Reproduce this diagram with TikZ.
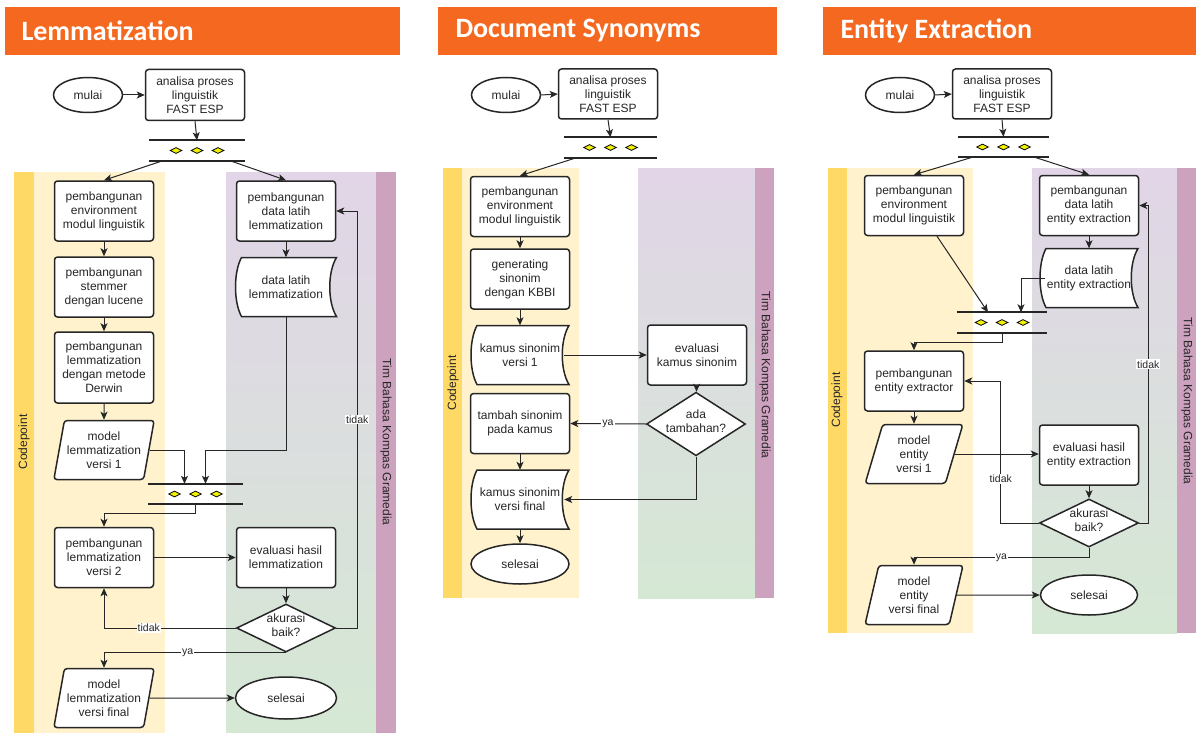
\documentclass[tikz,border=0pt]{standalone}
\usepackage{fontspec}
\setmainfont{Liberation Sans}
\newfontfamily\headfont{Carlito}
\usetikzlibrary{shapes.geometric, arrows.meta, calc}
\definecolor{headorange}{RGB}{244,105,31}
\definecolor{laneyellow}{HTML}{FFF2CC}
\definecolor{stripyellow}{HTML}{FFD966}
\definecolor{lanepurple}{HTML}{E1D5E7}
\definecolor{lanegreen}{HTML}{D5E8D4}
\definecolor{strippurple}{HTML}{CDA2BE}
\definecolor{gemyellow}{HTML}{F2F200}
\definecolor{ink}{HTML}{262626}
\tikzstyle{box} = [rectangle, rounded corners=3pt, draw=ink, line width=1.5pt, fill=white, align=center, minimum width=99pt, minimum height=60pt, inner sep=1pt, text=ink, font=\fontsize{12}{14}\selectfont]
\tikzstyle{term} = [ellipse, draw=ink, line width=1.5pt, fill=white, minimum width=69pt, minimum height=35pt, inner sep=0pt, text=ink, font=\fontsize{12}{14}\selectfont]
\tikzstyle{io} = [trapezium, trapezium left angle=75, trapezium right angle=105, trapezium stretches=true, rounded corners=3pt, draw=ink, line width=1.5pt, fill=white, align=center, minimum width=101pt, minimum height=59pt, inner sep=0pt, text=ink, font=\fontsize{12}{14}\selectfont]
\tikzstyle{decision} = [diamond, draw=ink, line width=1.5pt, fill=white, minimum width=99pt, minimum height=48pt, inner sep=0pt, text=ink, font=\fontsize{12}{14}\selectfont]
\tikzstyle{store} = [draw=ink, line width=1.5pt, fill=white]
\tikzstyle{storetxt} = [rectangle, align=center, minimum width=88pt, minimum height=59pt, inner sep=0pt, text=ink, font=\fontsize{12}{14}\selectfont]
\tikzstyle{fork} = [rectangle, minimum height=20pt, inner sep=0pt]
\tikzstyle{gem} = [diamond, draw=black, line width=0.8pt, fill=gemyellow, minimum width=12pt, minimum height=6pt, inner sep=0pt]
\tikzstyle{arrow} = [line width=1pt, draw=ink, -{Stealth[length=8pt, width=7pt, inset=2pt]}]
\tikzstyle{lbl} = [fill=white, inner sep=1pt, text=ink, font=\fontsize{10.5}{12}\selectfont]
\tikzstyle{lanetxt} = [text=ink, font=\fontsize{12}{14}\selectfont]
\tikzstyle{head} = [anchor=west, text=white, font=\headfont\bfseries\fontsize{28}{30}\selectfont]
% stored data shape: name, x, y, width, text
\newcommand{\storenode}[5]{%
  \draw[store] ({#2-#4/2+6},{#3-29.5}) -- ({#2+#4/2},{#3-29.5})
    .. controls ({#2+#4/2-9},{#3-15}) and ({#2+#4/2-9},{#3+15}) .. ({#2+#4/2},{#3+29.5})
    -- ({#2-#4/2+6},{#3+29.5})
    .. controls ({#2-#4/2-2},{#3+15}) and ({#2-#4/2-2},{#3-15}) .. cycle;
  \node[storetxt] (#1) at (#2,#3) {#5};}
% join bar: name, x, y, width
\newcommand{\forkbar}[4]{%
  \node[fork, minimum width=#4pt] (#1) at (#2,#3) {};
  \draw[line width=2.2pt, ink] (#1.north west) -- (#1.north east);
  \draw[line width=2.2pt, ink] (#1.south west) -- (#1.south east);
  \foreach \dx in {-21,0,21} \node[gem] at ($(#1.center)+(\dx,0)$) {};}
\newcommand{\dtext}[1]{\raisebox{-3.5pt}{\smash{\begin{tabular}{@{}c@{}}#1\end{tabular}}}}

\begin{document}
\begin{tikzpicture}[x=1pt, y=-1pt]
	\useasboundingbox (0,0) rectangle (1196,733);
	\fill[white] (0,0) rectangle (1196,733);

	%Lemmatization
	\fill[headorange] (5,7) rectangle (400,55);
	\node[head] (t1) at (18,31) {Lemmatization};
	\fill[stripyellow] (14,172) rectangle (34,733);
	\fill[laneyellow] (34,172) rectangle (165,733);
	\shade[top color=lanepurple, bottom color=lanegreen] (226,172) rectangle (376,733);
	\fill[strippurple] (376,172) rectangle (396,733);
	\node[lanetxt, rotate=90] (cp1) at (24,442) {Codepoint};
	\node[lanetxt, rotate=-90] (tb1) at (386,442) {Tim Bahasa Kompas Gramedia};

	\node[term] (m1) at (88,95) {mulai};
	\node[box, minimum height=51pt] (a1) at (195,95) {analisa proses\\linguistik\\FAST ESP};
	\forkbar{f1}{197}{150.5}{95}
	\node[box] (pe1) at (104,211) {pembangunan\\environment\\modul linguistik};
	\node[box] (pd1) at (286,211) {pembangunan\\data latih\\lemmatization};
	\node[box] (ps1) at (104,287) {pembangunan\\stemmer\\dengan lucene};
	\storenode{dl1}{286}{287}{101}{data latih\\lemmatization}
	\node[box, minimum height=71pt] (pl1) at (104,367.5) {pembangunan\\lemmatization\\dengan metode\\Derwin};
	\node[io] (mv1) at (104,450) {model\\lemmatization\\versi 1};
	\forkbar{f2}{195.5}{494}{95}
	\node[box] (pv1) at (104,557.5) {pembangunan\\lemmatization\\versi 2};
	\node[box] (ev1) at (286,557.5) {evaluasi hasil\\lemmatization};
	\node[decision] (ak1) at (286,628) {\dtext{akurasi\\baik?}};
	\node[io] (mf1) at (104,698) {model\\lemmatization\\versi final};
	\node[term, minimum width=101pt, minimum height=42pt] (se1) at (286,698) {selesai};

	\draw[arrow] (m1.east) -- (a1.west);
	\draw[arrow] (a1.south) -- (f1.north);
	\draw[arrow] ($(f1.south)+(-34,0)$) -- (pe1.north);
	\draw[arrow] ($(f1.south)+(33,0)$) -- (pd1.north);
	\draw[arrow] (pe1) -- (ps1);
	\draw[arrow] (ps1) -- (pl1);
	\draw[arrow] (pl1) -- (mv1);
	\draw[arrow] (pd1) -- (dl1);
	\draw[arrow] (mv1.east) -| ($(f2.north)+(-11,0)$);
	\draw[arrow] (dl1.south) -- (dl1.south |- mv1.east) -| ($(f2.north)+(10,0)$);
	\draw[arrow] (f2.south) -- ++(0,9) -| (pv1.north);
	\draw[arrow] (pv1) -- (ev1);
	\draw[arrow] (ev1) -- (ak1);
	\draw[arrow] (ak1.west) -| node[lbl, pos=0.33] {tidak} (pv1.south);
	\draw[arrow] (ak1.east) -- ++(21,0) |- node[lbl, pos=0.25] {tidak} (pd1.east);
	\draw[arrow] (ak1.south) -| node[lbl, pos=0.27] {ya} (mf1.north);
	\draw[arrow] (mf1.east) -- (se1.west);

	%Document Synonyms
	\fill[headorange] (438,7) rectangle (777,55);
	\node[head] (t2) at (452,31) {Document Synonyms};
	\fill[stripyellow] (443,168) rectangle (462,598);
	\fill[laneyellow] (462,168) rectangle (579,598);
	\shade[top color=lanepurple, bottom color=lanegreen] (638,168) rectangle (755,598);
	\fill[strippurple] (755,168) rectangle (774,598);
	\node[lanetxt, rotate=90] (cp2) at (453,383) {Codepoint};
	\node[lanetxt, rotate=-90] (tb2) at (765,375) {Tim Bahasa Kompas Gramedia};

	\node[term] (m2) at (506,95) {mulai};
	\node[box, minimum height=50pt] (a2) at (608,94) {analisa proses\\linguistik\\FAST ESP};
	\forkbar{f3}{610.5}{147.5}{93}
	\node[box] (pe2) at (520,206.5) {pembangunan\\environment\\modul linguistik};
	\node[box] (gs2) at (520,279) {generating\\sinonim\\dengan KBBI};
	\storenode{kv2}{520}{355}{98}{kamus sinonim\\versi 1}
	\node[box] (ek2) at (697,355) {evaluasi\\kamus sinonim};
	\node[decision] (at2) at (696,424) {\dtext{ada\\tambahan?}};
	\node[box] (ts2) at (520,423.5) {tambah sinonim\\pada kamus};
	\storenode{kf2}{520}{499.5}{98}{kamus sinonim\\versi final}
	\node[term, minimum width=98pt, minimum height=40pt] (se2) at (520,564) {selesai};

	\draw[arrow] (m2.east) -- (a2.west);
	\draw[arrow] (a2.south) -- (f3.north);
	\draw[arrow] ($(f3.south)+(-34,0)$) -- (pe2.north);
	\draw[arrow] (pe2) -- (gs2);
	\draw[arrow] (gs2) -- (kv2);
	\draw[arrow] (kv2.east) -- (ek2.west);
	\draw[arrow] (ek2) -- (at2);
	\draw[arrow] (at2.west) -- node[lbl] {ya} (ts2.east);
	\draw[arrow] (ts2) -- (kf2);
	\draw[arrow] (at2.south) |- (kf2.east);
	\draw[arrow] (kf2) -- (se2);

	%Entity Extraction
	\fill[headorange] (823,7) rectangle (1196,55);
	\node[head] (t3) at (837,31) {Entity Extraction};
	\fill[stripyellow] (828,168) rectangle (847,633);
	\fill[laneyellow] (847,168) rectangle (973,633);
	\shade[top color=lanepurple, bottom color=lanegreen] (1032,168) rectangle (1177,633);
	\fill[strippurple] (1177,168) rectangle (1196,633);
	\node[lanetxt, rotate=90] (cp3) at (837,400) {Codepoint};
	\node[lanetxt, rotate=-90] (tb3) at (1187,401) {Tim Bahasa Kompas Gramedia};

	\node[term] (m3) at (900,95) {mulai};
	\node[box, minimum height=50pt] (a3) at (1002,94) {analisa proses\\linguistik\\FAST ESP};
	\forkbar{f4}{1003.5}{147}{91}
	\node[box] (pe3) at (914,205.5) {pembangunan\\environment\\modul linguistik};
	\node[box] (pd3) at (1089,205.5) {pembangunan\\data latih\\entity extraction};
	\storenode{dl3}{1089}{278}{98}{data latih\\entity extraction}
	\forkbar{f5}{1002}{322.5}{90}
	\node[box] (px3) at (914,381) {pembangunan\\entity extractor};
	\node[io, minimum width=98pt] (mv3) at (914,454) {model\\entity\\versi 1};
	\node[box] (ev3) at (1089,455) {evaluasi hasil\\entity extraction};
	\node[decision] (ak3) at (1089,523) {\dtext{akurasi\\baik?}};
	\node[io, minimum width=98pt] (mf3) at (914,595) {model\\entity\\versi final};
	\node[term, minimum width=97pt, minimum height=40pt] (se3) at (1089,595) {selesai};

	\draw[arrow] (m3.east) -- (a3.west);
	\draw[arrow] (a3.south) -- (f4.north);
	\draw[arrow] ($(f4.south)+(-31,0)$) -- (pe3.north);
	\draw[arrow] ($(f4.south)+(31,0)$) -- (pd3.north);
	\draw[arrow] (pd3) -- (dl3);
	\draw[arrow] ($(pe3.south)+(23,0)$) -- ($(f5.north)+(-14,0)$);
	\draw[arrow] (dl3.west) -| ($(f5.north)+(19,0)$);
	\draw[arrow] (f5.south) -- ++(0,10) -| (px3.north);
	\draw[arrow] (px3) -- (mv3);
	\draw[arrow] (mv3.east) -- (mv3.east -| ev3.west);
	\draw[arrow] (ev3) -- (ak3);
	\draw[arrow] (ak3.west) -- ++(-38,0) |- node[lbl, pos=0.155] {tidak} (px3.east);
	\draw[arrow] (ak3.east) -- ++(9,0) |- node[lbl, pos=0.25] {tidak} (pd3.east);
	\draw[arrow] (ak3.south) -- ++(0,10) -| node[lbl, pos=0.25] {ya} (mf3.north);
	\draw[arrow] (mf3.east) -- (se3.west);

\end{tikzpicture}
\end{document}
